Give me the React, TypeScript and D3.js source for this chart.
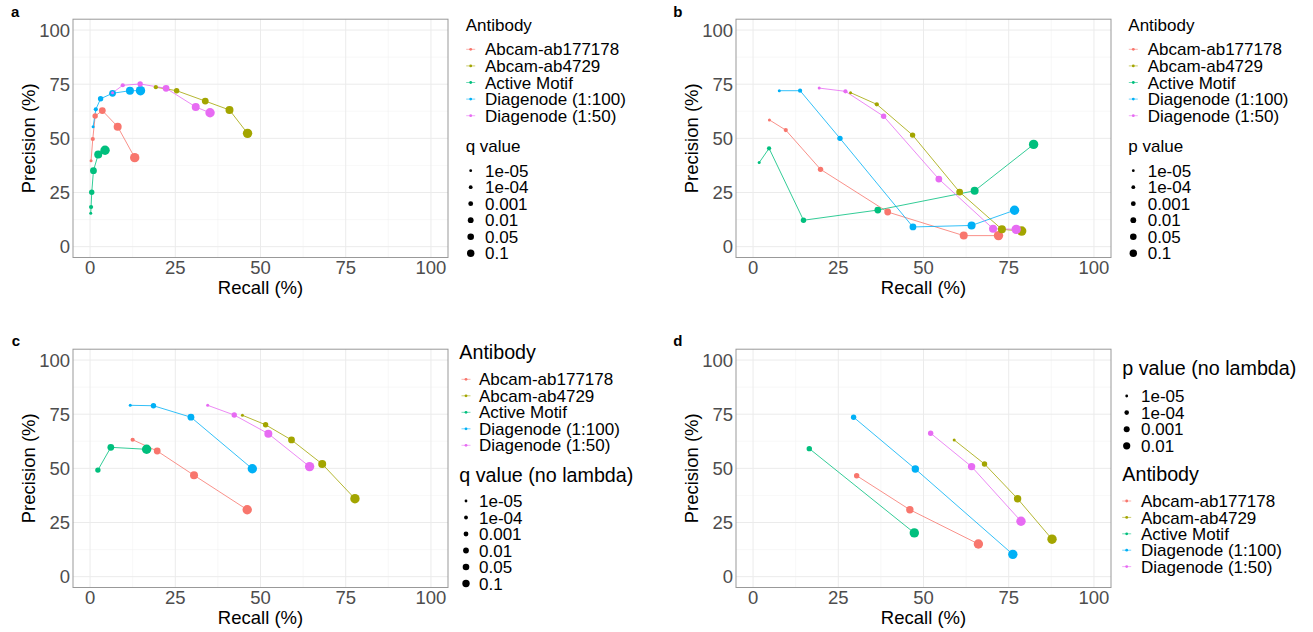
import React from "react";
import * as d3 from "d3";

const antibodies = ["Abcam-ab177178", "Abcam-ab4729", "Active Motif", "Diagenode (1:100)", "Diagenode (1:50)"];
const antibodyColors = ["#F8766D", "#A3A500", "#00BF7D", "#00B0F6", "#E76BF3"];
const thresholds6 = ["1e-05", "1e-04", "0.001", "0.01", "0.05", "0.1"];
const thresholds4 = ["1e-05", "1e-04", "0.001", "0.01"];
const axisTicks = [0, 25, 50, 75, 100];
const minorTicks = [12.5, 37.5, 62.5, 87.5];

// Panel a: q value
const aRecall = [
  [0.3, 0.8, 1.5, 3.6, 8.1, 13.1],
  [19.3, 25.4, 33.8, 40.9, 46.2],
  [0.2, 0.3, 0.5, 1.0, 2.4, 4.4],
  [0.9, 1.7, 3.1, 6.6, 11.7, 14.8],
  [6.6, 9.6, 14.7, 22.3, 31.0, 35.2],
];
const aPrecision = [
  [39.7, 49.7, 60.3, 62.8, 55.4, 41.1],
  [73.6, 72.0, 67.2, 63.1, 52.3],
  [15.4, 18.3, 25.1, 35.1, 42.6, 44.5],
  [55.4, 63.4, 68.3, 70.8, 72.0, 72.0],
  [71.0, 74.5, 75.1, 73.1, 64.5, 61.8],
];
const aLevel = [
  [0, 1, 2, 3, 4, 5],
  [1, 2, 3, 4, 5],
  [0, 1, 2, 3, 4, 5],
  [0, 1, 2, 3, 4, 5],
  [0, 1, 2, 3, 4, 5],
];

// Panel b: p value
const bRecall = [
  [4.8, 9.6, 19.8, 39.5, 61.8, 72.0],
  [28.6, 36.3, 46.8, 60.6, 73.0, 78.8],
  [1.8, 4.7, 14.8, 36.6, 65.0, 82.3],
  [7.7, 13.8, 25.5, 46.9, 64.1, 76.7],
  [19.4, 27.1, 38.3, 54.5, 70.4, 77.2],
];
const bPrecision = [
  [58.5, 53.8, 35.7, 16.0, 5.1, 5.1],
  [71.1, 65.7, 51.5, 25.2, 8.0, 7.2],
  [38.8, 45.4, 12.2, 16.9, 25.8, 47.2],
  [72.0, 72.0, 50.0, 9.1, 9.8, 16.8],
  [73.2, 71.7, 60.2, 31.2, 8.3, 8.0],
];
const bLevel = [
  [0, 1, 2, 3, 4, 5],
  [0, 1, 2, 3, 4, 5],
  [0, 1, 2, 3, 4, 5],
  [0, 1, 2, 3, 4, 5],
  [0, 1, 2, 3, 4, 5],
];

// Panel c: q value (no lambda)
const cRecall = [
  [12.5, 19.7, 30.5, 46.1],
  [44.7, 51.5, 59.1, 68.1, 77.7],
  [2.3, 6.1, 16.6],
  [11.8, 18.6, 29.6, 47.6],
  [34.5, 42.3, 52.3, 64.4],
];
const cPrecision = [
  [63.2, 58.0, 46.8, 30.9],
  [74.5, 70.1, 63.1, 52.0, 36.0],
  [49.2, 59.7, 58.8],
  [79.1, 78.9, 73.6, 49.8],
  [79.1, 74.6, 66.0, 50.8],
];
const cLevel = [
  [1, 3, 4, 5],
  [0, 2, 3, 4, 5],
  [2, 3, 5],
  [0, 2, 3, 5],
  [0, 2, 4, 5],
];

// Panel d: p value (no lambda)
const dRecall = [
  [30.4, 46.0, 66.1],
  [59.0, 67.9, 77.6, 87.7],
  [16.5, 47.3],
  [29.5, 47.6, 76.2],
  [52.1, 64.1, 78.6],
];
const dPrecision = [
  [46.6, 30.9, 15.1],
  [63.1, 52.0, 36.0, 17.3],
  [59.1, 20.2],
  [73.6, 49.7, 10.3],
  [66.2, 50.8, 25.6],
];
const dLevel = [
  [1, 2, 3],
  [0, 1, 2, 3],
  [1, 3],
  [1, 2, 3],
  [1, 2, 3],
];

const FONT = "'Liberation Sans', Arial, Helvetica, sans-serif";
const radii6 = [1.5, 2.1, 2.7, 3.4, 4.0, 4.7];
const radii4 = [1.5, 2.7, 3.7, 4.7];
const legendRadii6 = [1.4, 1.9, 2.4, 2.9, 3.3, 3.7];
const legendRadii4 = [1.4, 2.3, 3.0, 3.6];

type PanelProps = {
  left: number; right: number; top: number; bottom: number;
  recall: number[][]; precision: number[][]; level: number[][];
  radii: number[]; label: string; labelX: number; labelY: number;
};

function Panel(p: PanelProps) {
  const x = d3.scaleLinear().domain([-5, 105]).range([p.left, p.right]);
  const y = d3.scaleLinear().domain([-5, 105]).range([p.bottom, p.top]);
  const line = d3.line<[number, number]>().x((d) => x(d[0])).y((d) => y(d[1]));
  const cx = (p.left + p.right) / 2;
  const cy = (p.top + p.bottom) / 2;
  return (
    <g>
      <text x={p.labelX} y={p.labelY} fontFamily={FONT} fontWeight="bold" fontSize={15} fill="#000">{p.label}</text>
      <rect x={p.left} y={p.top} width={p.right - p.left} height={p.bottom - p.top} fill="#fff" />
      {minorTicks.map((t) => (
        <g key={"m" + t}>
          <line x1={x(t)} x2={x(t)} y1={p.top} y2={p.bottom} stroke="#F4F4F4" strokeWidth={0.6} />
          <line x1={p.left} x2={p.right} y1={y(t)} y2={y(t)} stroke="#F4F4F4" strokeWidth={0.6} />
        </g>
      ))}
      {axisTicks.map((t) => (
        <g key={"M" + t}>
          <line x1={x(t)} x2={x(t)} y1={p.top} y2={p.bottom} stroke="#EBEBEB" strokeWidth={1} />
          <line x1={p.left} x2={p.right} y1={y(t)} y2={y(t)} stroke="#EBEBEB" strokeWidth={1} />
        </g>
      ))}
      {p.recall.map((rs, i) => {
        const pts: [number, number][] = rs.map((r, j) => [r, p.precision[i][j]]);
        return (
          <path key={"l" + i} d={line(pts) || ""} fill="none" stroke={antibodyColors[i]} strokeWidth={1} strokeOpacity={0.8} />
        );
      })}
      {p.recall.map((rs, i) =>
        rs.map((r, j) => (
          <circle key={"p" + i + "-" + j} cx={x(r)} cy={y(p.precision[i][j])} r={p.radii[p.level[i][j]]} fill={antibodyColors[i]} />
        ))
      )}
      <rect x={p.left} y={p.top} width={p.right - p.left} height={p.bottom - p.top} fill="none" stroke="#999" strokeWidth={1} />
      {axisTicks.map((t) => (
        <text key={"yt" + t} x={p.left - 3} y={y(t)} dy="0.36em" textAnchor="end" fontFamily={FONT} fontSize={18.5} fill="#4D4D4D">{t}</text>
      ))}
      {axisTicks.map((t) => (
        <text key={"xt" + t} x={x(t)} y={p.bottom + 16} textAnchor="middle" fontFamily={FONT} fontSize={18.5} fill="#4D4D4D">{t}</text>
      ))}
      <text x={cx} y={p.bottom + 36.5} textAnchor="middle" fontFamily={FONT} fontSize={18.5} fill="#000">Recall (%)</text>
      <text transform={`translate(${p.left - 38.5},${cy}) rotate(-90)`} textAnchor="middle" fontFamily={FONT} fontSize={18.5} fill="#000">Precision (%)</text>
    </g>
  );
}

type AbLegendProps = { titleX: number; titleY: number; titleSize: number; keyX: number; labelX: number; rowY0: number; rowStep: number };
function AntibodyLegend(p: AbLegendProps) {
  return (
    <g fontFamily={FONT}>
      <text x={p.titleX} y={p.titleY} fontSize={p.titleSize} fill="#000">Antibody</text>
      {antibodies.map((a, i) => {
        const cy = p.rowY0 + i * p.rowStep;
        return (
          <g key={a}>
            <line x1={p.keyX - 4.5} x2={p.keyX + 4.5} y1={cy} y2={cy} stroke={antibodyColors[i]} strokeWidth={0.8} strokeOpacity={0.7} />
            <circle cx={p.keyX} cy={cy} r={1.4} fill={antibodyColors[i]} />
            <text x={p.labelX} y={cy + 6.1} fontSize={17} fill="#000">{a}</text>
          </g>
        );
      })}
    </g>
  );
}

type SizeLegendProps = { title: string; labels: string[]; radii: number[]; titleX: number; titleY: number; titleSize: number; keyX: number; labelX: number; rowY0: number; rowStep: number };
function SizeLegend(p: SizeLegendProps) {
  return (
    <g fontFamily={FONT}>
      <text x={p.titleX} y={p.titleY} fontSize={p.titleSize} fill="#000">{p.title}</text>
      {p.labels.map((l, i) => {
        const cy = p.rowY0 + i * p.rowStep;
        return (
          <g key={l}>
            <circle cx={p.keyX} cy={cy} r={p.radii[i]} fill="#000" />
            <text x={p.labelX} y={cy + 6.1} fontSize={17} fill="#000">{l}</text>
          </g>
        );
      })}
    </g>
  );
}

export default function App() {
  const topA = 19.2, botA = 257.5, topC = 349.2, botC = 587.5;
  return (
    <div style={{ position: "fixed", left: 0, top: 0, width: 1313, height: 632, background: "#fff" }}>
      <svg width={1313} height={632} style={{ display: "block" }}>
        <rect x={0} y={0} width={1313} height={632} fill="#fff" />
        <Panel left={73} right={448} top={topA} bottom={botA} recall={aRecall} precision={aPrecision} level={aLevel} radii={radii6} label="a" labelX={11} labelY={17.3} />
        <Panel left={736} right={1111} top={topA} bottom={botA} recall={bRecall} precision={bPrecision} level={bLevel} radii={radii6} label="b" labelX={673.3} labelY={17.3} />
        <Panel left={73} right={448} top={topC} bottom={botC} recall={cRecall} precision={cPrecision} level={cLevel} radii={radii6} label="c" labelX={11.7} labelY={346} />
        <Panel left={736} right={1111} top={topC} bottom={botC} recall={dRecall} precision={dPrecision} level={dLevel} radii={radii4} label="d" labelX={673.3} labelY={346} />

        <AntibodyLegend titleX={465.7} titleY={30.9} titleSize={17} keyX={470.7} labelX={485} rowY0={49.3} rowStep={16.6} />
        <SizeLegend title="q value" labels={thresholds6} radii={legendRadii6} titleX={465.7} titleY={151.7} titleSize={17} keyX={470.7} labelX={485} rowY0={170.7} rowStep={16.5} />

        <AntibodyLegend titleX={1128.3} titleY={30.9} titleSize={17} keyX={1133.3} labelX={1147.7} rowY0={49.3} rowStep={16.6} />
        <SizeLegend title="p value" labels={thresholds6} radii={legendRadii6} titleX={1128.3} titleY={151.7} titleSize={17} keyX={1133.3} labelX={1147.7} rowY0={170.7} rowStep={16.5} />

        <AntibodyLegend titleX={459.3} titleY={359.3} titleSize={19.7} keyX={466} labelX={479} rowY0={379.3} rowStep={16.5} />
        <SizeLegend title="q value (no lambda)" labels={thresholds6} radii={legendRadii6} titleX={459.3} titleY={481.7} titleSize={19.7} keyX={466} labelX={479} rowY0={501} rowStep={16.5} />

        <SizeLegend title="p value (no lambda)" labels={thresholds4} radii={legendRadii4} titleX={1122.3} titleY={375} titleSize={19.7} keyX={1126.7} labelX={1141} rowY0={396} rowStep={16.6} />
        <AntibodyLegend titleX={1122.3} titleY={480.7} titleSize={19.7} keyX={1126.7} labelX={1141} rowY0={501} rowStep={16.4} />
      </svg>
    </div>
  );
}
